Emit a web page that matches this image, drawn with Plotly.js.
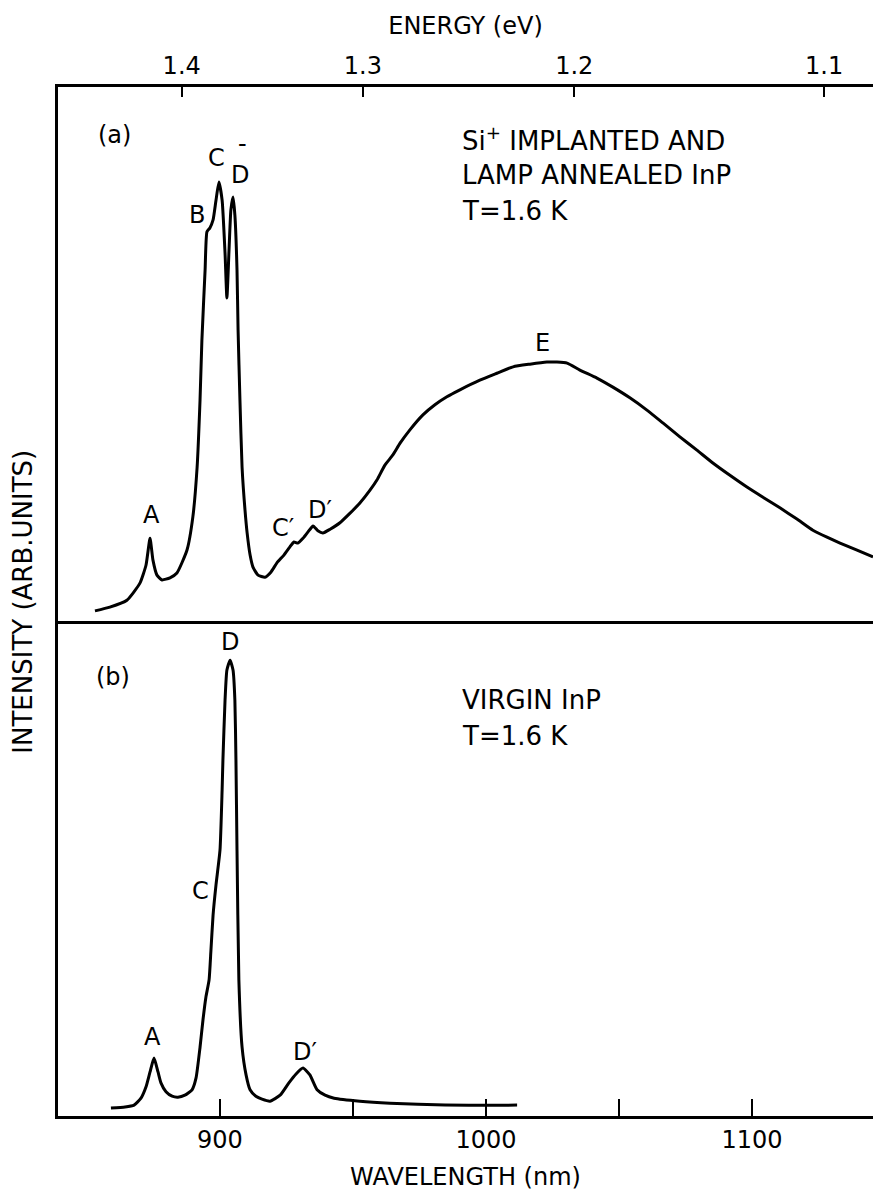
<!DOCTYPE html>
<html>
<head>
<meta charset="utf-8">
<script src="https://cdn.plot.ly/plotly-3.0.1.min.js"></script>
<style>
  html, body { margin: 0; padding: 0; background: #fff; }
  #plot { width: 873px; height: 1196px; }
</style>
</head>
<body>
<div id="plot"></div>
<script>
// Photoluminescence spectra of InP at T = 1.6 K (intensity in arbitrary units)

// (a) Si+ implanted and lamp annealed InP
const wavelengthA = [853.0, 858.6, 865.0, 869.9, 872.2, 873.7, 874.8, 876.3, 878.2, 881.2,
  883.8, 887.6, 889.8, 891.4, 892.5, 893.2, 894.4, 895.1, 896.2, 897.4,
  898.5, 899.6, 900.8, 901.9, 902.6, 903.4, 904.1, 904.9, 905.6, 906.4,
  906.8, 907.5, 908.3, 909.4, 910.2, 911.3, 912.4, 914.3, 916.9, 919.2,
  921.4, 924.1, 926.3, 927.8, 929.3, 931.2, 933.1, 935.0, 936.8, 938.7,
  941.4, 945.1, 948.9, 952.6, 956.4, 959.0, 962.0, 965.0, 967.7, 971.4,
  976.3, 980.8, 985.3, 990.2, 997.7, 1004.1, 1010.2, 1016.5, 1022.9, 1026.7,
  1030.5, 1035.3, 1041.7, 1047.7, 1054.1, 1060.5, 1066.5, 1072.9, 1079.3, 1085.3,
  1091.7, 1098.1, 1104.1, 1110.5, 1116.9, 1122.9, 1128.2, 1133.1, 1139.5, 1145.5];
const intensityA = [1.9, 2.6, 3.9, 7.1, 10.5, 15.5, 11.4, 8.6, 7.7, 8.1,
  9.0, 13.3, 19.5, 28.8, 41.4, 52.6, 65.7, 72.9, 73.6, 75.1,
  78.8, 82.2, 78.8, 68.9, 60.5, 69.5, 77.0, 79.4, 76.0, 65.7,
  54.5, 41.4, 28.8, 20.8, 16.5, 12.4, 10.1, 8.6, 8.2, 9.2,
  10.9, 12.4, 13.9, 14.8, 14.6, 15.5, 16.7, 17.8, 16.9, 16.5,
  17.2, 18.4, 20.2, 22.1, 24.5, 26.4, 29.2, 31.1, 33.3, 35.8,
  38.6, 40.5, 42.0, 43.3, 45.1, 46.4, 47.6, 48.1, 48.5, 48.5,
  48.3, 47.0, 45.5, 43.8, 41.8, 39.5, 37.1, 34.5, 32.0, 29.6,
  27.3, 25.1, 23.2, 21.2, 19.1, 17.0, 15.7, 14.6, 13.3, 12.0];

// (b) virgin InP
const wavelengthB = [859.0, 864.3, 867.7, 870.3, 872.2, 873.7, 875.2, 876.7, 877.8, 879.7,
  882.0, 884.2, 886.8, 889.5, 891.0, 892.5, 893.6, 894.7, 895.9, 896.6,
  897.4, 898.5, 900.0, 900.8, 901.1, 901.9, 902.6, 903.8, 904.9, 905.6,
  906.0, 906.4, 907.1, 908.3, 909.8, 911.3, 913.5, 915.8, 918.8, 922.6,
  925.9, 928.6, 931.2, 933.8, 936.5, 939.5, 942.9, 952.6, 963.9, 984.6, 1011.7];
const intensityB = [1.6, 1.8, 2.2, 3.6, 5.9, 8.9, 11.7, 8.9, 6.7, 4.9,
  4.0, 3.8, 4.2, 5.3, 7.7, 13.9, 19.4, 24.0, 27.5, 33.5,
  40.6, 46.7, 53.7, 65.9, 71.9, 84.0, 90.1, 92.1, 90.1, 84.0,
  71.9, 53.7, 27.5, 13.9, 8.3, 5.3, 4.0, 3.4, 3.0, 4.2,
  6.7, 8.5, 9.7, 8.3, 5.3, 4.2, 3.6, 3.0, 2.6, 2.2, 2.2];

// Axis ticks
const wavelengthTicks = [900, 1000, 1100];
const wavelengthMinorTicks = [950, 1050];
const energyTicks = [1.4, 1.3, 1.2, 1.1];
const energyTickText = ['1.4', '1.3', '1.2', '1.1'];
const HC = 1239.84; // eV·nm, converts photon energy to wavelength

// Peak labels: [text, wavelength, intensity]
const peakLabelsA = [
  ['(a)', 860.2, 91.0], ['B', 891.4, 76.0], ['C', 898.5, 86.7], ['-', 908.3, 89.3],
  ['D', 907.5, 83.5], ['A', 874.4, 19.9], ['C′', 923.7, 17.4], ['D′', 937.6, 20.8],
  ['E', 1021.1, 52.1]
];
const peakLabelsB = [
  ['(b)', 859.8, 88.7], ['D', 903.8, 95.8], ['C', 892.5, 45.5],
  ['A', 874.8, 16.0], ['D′', 932.0, 12.9]
];
const sampleTextA = [
  ['Si<sup>+</sup> IMPLANTED AND', 990.2, 90.3],
  ['LAMP ANNEALED InP', 990.2, 83.5],
  ['T=1.6 K', 990.2, 76.8]
];
const sampleTextB = [
  ['VIRGIN InP', 990.2, 84.0],
  ['T=1.6 K', 990.2, 76.8]
];

const FONT = 'DejaVu Sans, sans-serif';
const INK = '#000';
const xRange = [839.1, 1145.5];

const curveLine = { color: INK, width: 3, shape: 'spline', smoothing: 0.5 };
const traces = [
  { x: wavelengthA, y: intensityA, xaxis: 'x2', yaxis: 'y2', type: 'scatter', mode: 'lines',
    line: curveLine, hoverinfo: 'skip' },
  { x: wavelengthB, y: intensityB, xaxis: 'x', yaxis: 'y', type: 'scatter', mode: 'lines',
    line: curveLine, hoverinfo: 'skip' }
];

function labels(list, xref, yref, anchor, size) {
  return list.map(([t, x, y]) => ({
    text: t, x: x, y: y, xref: xref, yref: yref, showarrow: false,
    xanchor: anchor, yanchor: 'middle', font: { family: FONT, size: size, color: INK }
  }));
}

const annotations = [].concat(
  labels(peakLabelsA, 'x2', 'y2', 'center', 24),
  labels(peakLabelsB, 'x', 'y', 'center', 24),
  labels(sampleTextA, 'x2', 'y2', 'left', 26),
  labels(sampleTextB, 'x', 'y', 'left', 26),
  [{
    text: 'INTENSITY (ARB.UNITS)', textangle: -90, xref: 'paper', yref: 'paper',
    x: -0.044, y: 0.5, xanchor: 'center', yanchor: 'middle', showarrow: false,
    font: { family: FONT, size: 26, color: INK }
  }]
);

const axisCommon = {
  showgrid: false, zeroline: false, showline: true, linecolor: INK, linewidth: 3,
  tickcolor: INK, tickwidth: 2, ticks: 'inside',
  tickfont: { family: FONT, size: 24, color: INK }
};

const layout = {
  width: 873, height: 1196,
  margin: { l: 58, r: 0, t: 87, b: 80, pad: 0 },
  paper_bgcolor: '#fff', plot_bgcolor: '#fff',
  showlegend: false,
  xaxis: Object.assign({}, axisCommon, {
    domain: [0, 1], anchor: 'y', range: xRange,
    tickmode: 'array', tickvals: wavelengthTicks, ticklen: 17,
    minor: { tickmode: 'array', tickvals: wavelengthMinorTicks, ticks: 'inside',
             ticklen: 17, tickwidth: 2, tickcolor: INK, showgrid: false },
    title: { text: 'WAVELENGTH (nm)', standoff: 16, font: { family: FONT, size: 24, color: INK } }
  }),
  xaxis2: Object.assign({}, axisCommon, {
    domain: [0, 1], anchor: 'y2', side: 'top', range: xRange, mirror: true,
    tickmode: 'array', tickvals: energyTicks.map(e => HC / e), ticktext: energyTickText, ticklen: 10,
    title: { text: 'ENERGY (eV)', standoff: 12, font: { family: FONT, size: 24, color: INK } }
  }),
  yaxis: Object.assign({}, axisCommon, {
    domain: [0, 0.481], anchor: 'x', range: [0, 100], ticks: '', showticklabels: false
  }),
  yaxis2: Object.assign({}, axisCommon, {
    domain: [0.481, 1], anchor: 'x2', range: [0, 100], ticks: '', showticklabels: false
  }),
  annotations: annotations
};

Plotly.newPlot('plot', traces, layout, { staticPlot: true, displayModeBar: false });
</script>
</body>
</html>
